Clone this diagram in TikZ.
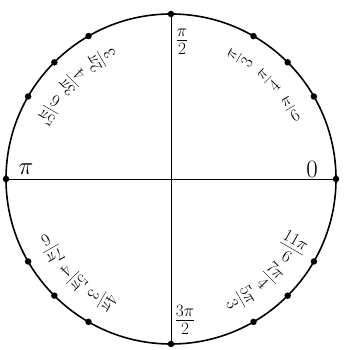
\documentclass[tikz,border=0pt]{standalone}
\begin{document}
\begin{tikzpicture}[x=1pt,y=1pt,
  axislbl/.style={font=\fontsize{23}{28}\selectfont, inner sep=0pt},
  anglbl/.style={font=\fontsize{23}{28}\selectfont, inner sep=0pt},
  ptdot/.style={circle, fill=black, inner sep=0pt, minimum size=6.5pt},
  rim/.style={line width=1.6pt},
  axisline/.style={line width=0.9pt}]
\useasboundingbox (0,0) rectangle (348,350);
\begin{scope}[shift={(171,171)}]
  \coordinate (O) at (0,0);
  \draw[rim] (O) circle (165);
  \foreach \a in {0,30,45,60,90,120,135,150,180,210,225,240,270,300,315,330}
    \node[ptdot] (p\a) at (\a:165) {};
  \draw[axisline] (p180) -- (p0);
  \draw[axisline] (p90) -- (p270);
  \node[axislbl] (l0) at (141,10) {$0$};
  \node[axislbl] (l180) at (-145,10) {$\pi$};
  \node[axislbl] (l90) at (11,137) {$\frac{\pi}{2}$};
  \node[axislbl] (l270) at (14,-141) {$\frac{3\pi}{2}$};
  \foreach \a/\t in {30/{\frac{\pi}{6}},45/{\frac{\pi}{4}},60/{\frac{\pi}{3}},
                     120/{\frac{2\pi}{3}},135/{\frac{3\pi}{4}},150/{\frac{5\pi}{6}},
                     210/{\frac{7\pi}{6}},225/{\frac{5\pi}{4}},240/{\frac{4\pi}{3}},
                     300/{\frac{5\pi}{3}},315/{\frac{7\pi}{4}},330/{\frac{11\pi}{6}}}
    \node[anglbl, rotate=\a] (l\a) at (\a:139) {$\t$};
\end{scope}
\end{tikzpicture}
\end{document}
